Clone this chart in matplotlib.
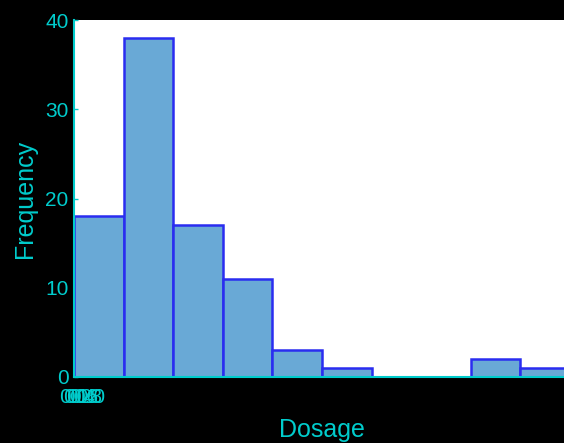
import matplotlib.pyplot as plt
import numpy as np

# histogram of dosage values
bin_edges = [0, 3, 6, 9, 12, 15, 18, 21, 24, 27, 30]
counts = [18, 38, 17, 11, 3, 1, 0, 0, 2, 1]
xticks = [0, 0.2, 0.4, 0.6, 0.8, 1.0]
yticks = [0, 10, 20, 30, 40]

fg = "#00cccc"
plt.rcParams["font.family"] = ["Liberation Sans", "DejaVu Sans"]

fig = plt.figure(figsize=(5.64, 4.43), dpi=100, facecolor="black")
ax = fig.add_axes([74 / 564, 66 / 443, 496 / 564, 357 / 443])
ax.set_facecolor("white")

widths = np.diff(bin_edges)
ax.bar(bin_edges[:-1], counts, width=widths, align="edge",
       color="#69a9d6", edgecolor="#2a2df0", linewidth=1.8, zorder=2)

ax.set_xlim(bin_edges[0], bin_edges[-1])
ax.set_ylim(0, 40)
ax.set_xticks(xticks)
ax.set_yticks(yticks)
ax.tick_params(colors=fg, labelsize=15, direction="in", length=3, width=1)
ax.tick_params(axis="x", pad=8)
ax.tick_params(axis="y", pad=4)

for side in ("top", "right"):
    ax.spines[side].set_visible(False)
for side in ("left", "bottom"):
    ax.spines[side].set_color(fg)
    ax.spines[side].set_linewidth(1.5)
    ax.spines[side].set_zorder(3)

ax.set_xlabel("Dosage", color=fg, fontsize=18, labelpad=8)
ax.set_ylabel("Frequency", color=fg, fontsize=18, labelpad=6)

fig.savefig("out.png", dpi=100, facecolor="black")
